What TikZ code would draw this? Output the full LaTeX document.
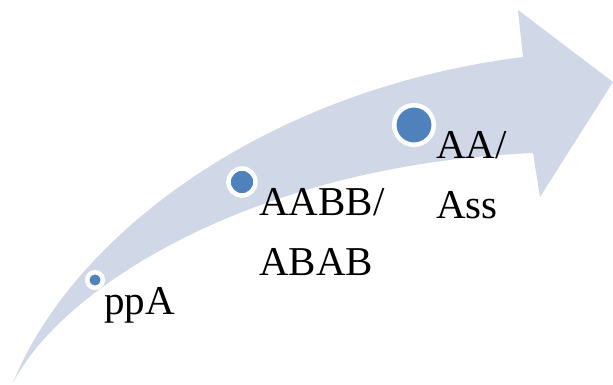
\documentclass[tikz,border=0pt]{standalone}
\usepackage{fontspec}
\setmainfont{Liberation Serif}
\definecolor{arrowfill}{HTML}{D0D8E8}
\definecolor{dotblue}{HTML}{4F81BD}
\begin{document}
\begin{tikzpicture}[x=1pt,y=-1pt,
  stage/.style={circle,fill=dotblue,draw=white,line width=4.5pt,inner sep=0pt},
  label/.style={anchor=base west,inner sep=0pt,font=\fontsize{41}{60}\selectfont,text=black}]
\useasboundingbox (0,0) rectangle (613,385);

% curved arrow band
\fill[arrowfill] (13,383)
  .. controls (70,240) and (260,90) .. (523,57)
  -- (518,10) -- (613,82) -- (540,197) -- (533,153)
  .. controls (250,165) and (60,290) .. (13,383) -- cycle;

% stages
\node[stage,minimum size=15.5pt] (s1) at (95,280) {};
\node[stage,minimum size=27pt]   (s2) at (242,182) {};
\node[stage,minimum size=39.5pt] (s3) at (414,125) {};

% labels
\node[label] (l1)  at (104,314) {ppA};
\node[label] (l2a) at (259,215) {AABB/};
\node[label] (l2b) at (259,275) {ABAB};
\node[label] (l3a) at (436,158) {AA/};
\node[label] (l3b) at (436,218) {Ass};
\end{tikzpicture}
\end{document}
